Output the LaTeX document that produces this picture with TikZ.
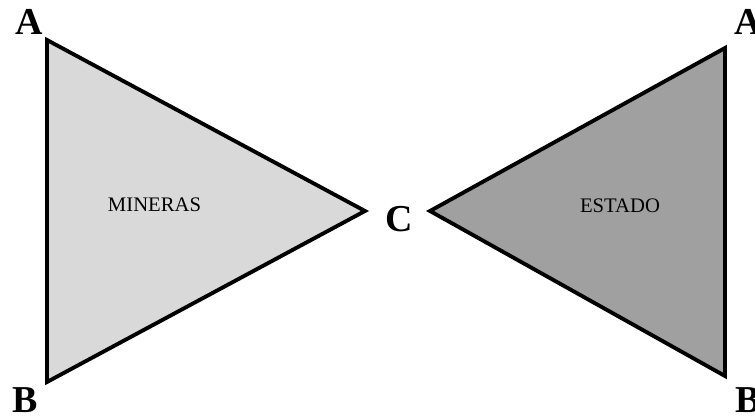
\documentclass[tikz,border=0pt]{standalone}
\usepackage{fontspec}
\setmainfont{Liberation Serif}
\usepackage{tikz}
\usetikzlibrary{positioning}

\begin{document}
\begin{tikzpicture}[
  x=0.75pt, y=-0.75pt,
  tri/.style={draw=black, line width=2.9pt, line join=miter},
  corner/.style={inner sep=0pt, font=\fontsize{28.5}{30}\selectfont\bfseries},
  party/.style={inner sep=0pt, font=\fontsize{15.5}{17}\selectfont}
]
\useasboundingbox (0,0) rectangle (755,416);

% Corners of the two triangles
\coordinate (la) at (47,40);
\coordinate (lb) at (47,382);
\coordinate (lc) at (365,211);
\coordinate (ra) at (725,48);
\coordinate (rb) at (725,376);
\coordinate (rc) at (430,211);

% Triangles
\draw[tri, fill={rgb,255:red,217;green,217;blue,217}] (la) -- (lb) -- (lc) -- cycle;
\draw[tri, fill={rgb,255:red,160;green,160;blue,160}] (ra) -- (rb) -- (rc) -- cycle;

% Labels
\node[corner] (labelA) at (29,22) {A};
\node[corner] (labelB) at (25,400) {B};
\node[corner] (labelC) at (399.5,219.5) {C};
\node[corner] (labelA2) at (748,22) {A};
\node[corner] (labelB2) at (748,400) {B};

\node[party] (mineras) at (154.5,205) {MINERAS};
\node[party] (estado) at (620,206) {ESTADO};
\end{tikzpicture}
\end{document}
